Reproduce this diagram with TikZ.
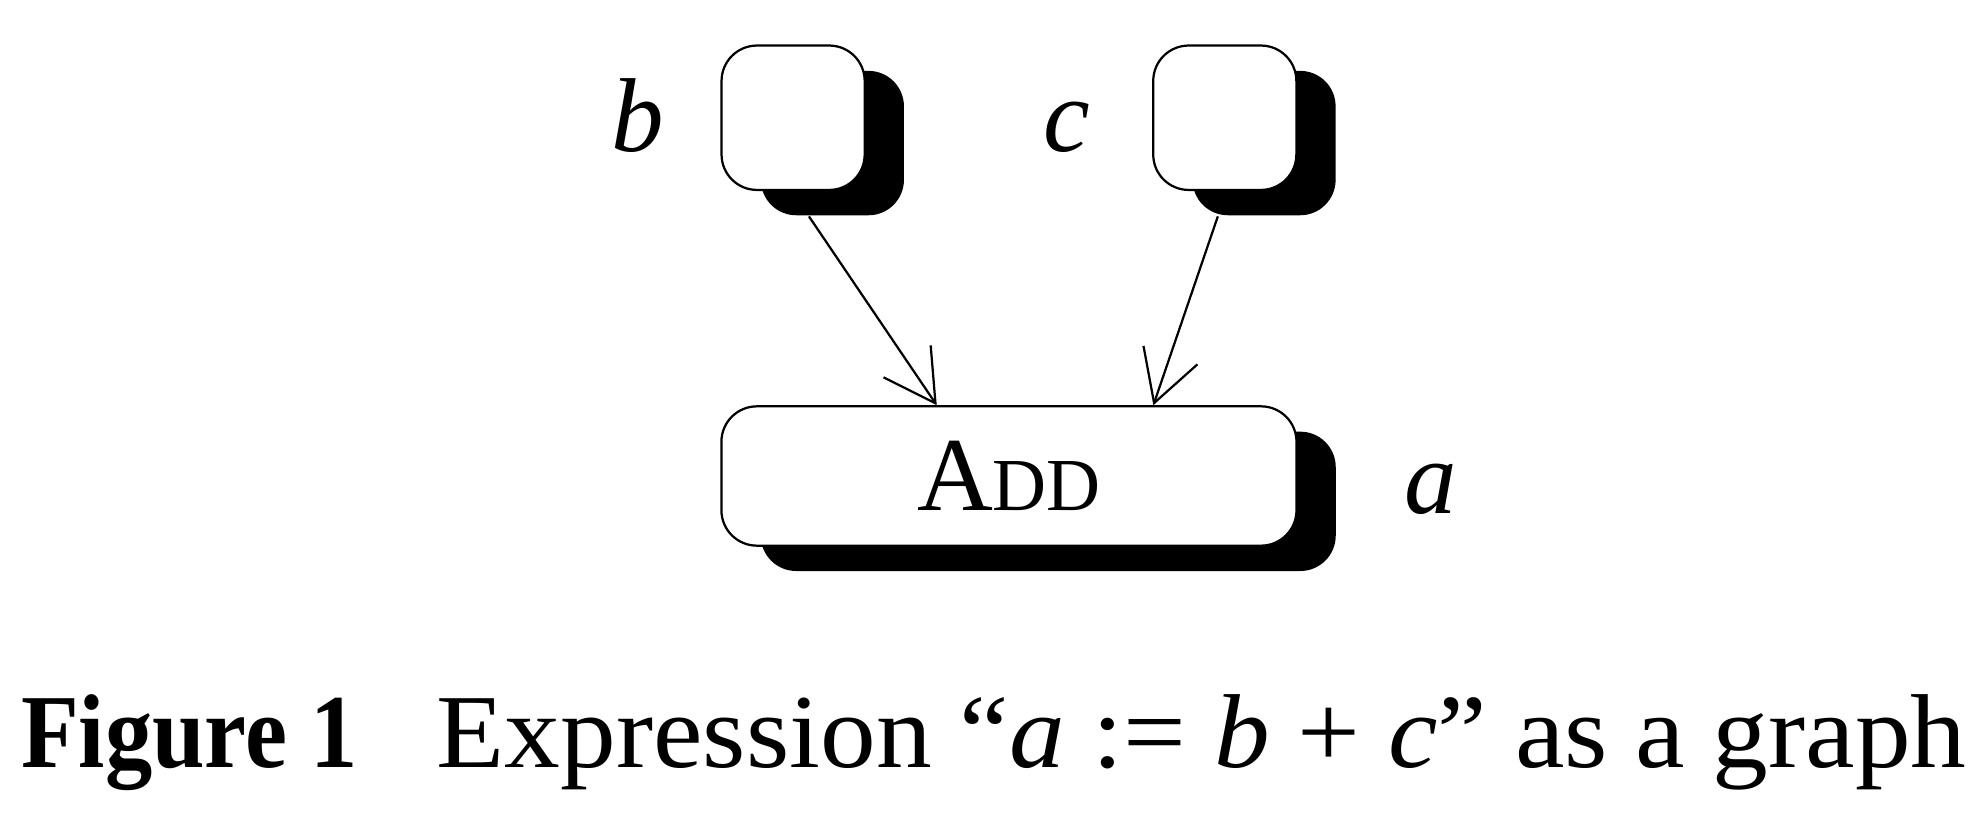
\documentclass[tikz,border=0pt]{standalone}
\usepackage{fontspec}
\setmainfont{Liberation Serif}
\newfontfamily\captext[FakeStretch=1.06]{Liberation Serif}
\newfontfamily\capbold[FakeStretch=0.9]{Liberation Serif}
\usetikzlibrary{shadows,arrows.meta}

\begin{document}
\begin{tikzpicture}[x=0.01cm,y=-0.01cm,
    cell/.style={draw,fill=white,rounded corners=0.28cm,line width=0.5pt,
      drop shadow={shadow xshift=0.31cm,shadow yshift=-0.2cm,fill=black,opacity=1},
      minimum width=1.13cm,minimum height=1.14cm,inner sep=0pt},
    op/.style={cell,minimum width=4.54cm,minimum height=1.1cm},
    lbl/.style={anchor=base,font=\fontsize{23.6}{28}\selectfont\itshape},
    edge/.style={-{Straight Barb[length=0.4cm,width=0.45cm]},line width=0.5pt}]
  \useasboundingbox (0,0) rectangle (1568,645);
  % value cells
  \node[cell] (b) at (626.5,93) {};
  \node[cell] (c) at (967.5,93) {};
  \node[op,text depth=0pt] (add) at (797,376) {\fontsize{23.6}{28}\selectfont A\fontsize{16.8}{20}\selectfont DD};
  % variable names
  \node[lbl] (bname) at (504,120) {b};
  \node[lbl] (cname) at (843,120) {c};
  \node[lbl] (aname) at (1130,406) {a};
  % edges leave the shadows
  \coordinate (bout) at ([xshift=0.125cm,yshift=-0.2cm]b.south);
  \coordinate (cout) at ([xshift=-0.055cm,yshift=-0.2cm]c.south);
  \draw[edge] (bout) -- ([xshift=-0.57cm]add.north);
  \draw[edge] (cout) -- ([xshift=1.14cm]add.north);
  \node[anchor=base] (caption) at (785,606) {\fontsize{23.6}{28}\selectfont{\capbold\bfseries Figure 1}\hspace{0.75em}\captext Expression “\textit{a} := \textit{b} + \textit{c}” as a graph};
\end{tikzpicture}
\end{document}
